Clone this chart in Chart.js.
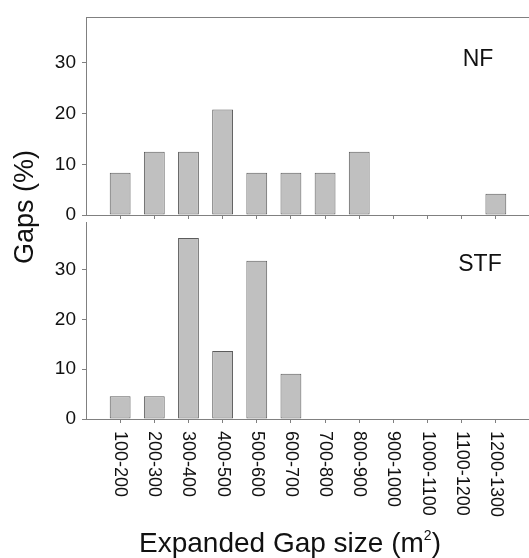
<!DOCTYPE html>
<html>
<head>
<meta charset="utf-8">
<script src="https://cdn.jsdelivr.net/npm/chart.js@4"></script>
<style>
    body { margin: 0; width: 529px; height: 558px; overflow: hidden; background: #fff; position: relative; font-family: "Liberation Sans", Arial, sans-serif; color: #111; }
    canvas { position: absolute; left: 0; }
    #topChart { top: 0; }
    #bottomChart { top: 205px; }
    .lbl { position: absolute; white-space: nowrap; text-align: center; }
    #yTitle { left: -76px; top: 192px; width: 200px; height: 30px; line-height: 30px; font-size: 27px; transform: rotate(-90deg); }
    #xTitle { left: 0; width: 580px; top: 529px; line-height: 28px; font-size: 28px; }
    #xTitle sup { font-size: 14px; vertical-align: 12px; line-height: 0; }
    .panel { width: 100px; line-height: 23px; font-size: 23px; }
    #nf { left: 428px; top: 47px; }
    #stf { left: 430px; top: 252px; }
</style>
</head>
<body>
<canvas id="topChart" width="530" height="240"></canvas>
<canvas id="bottomChart" width="530" height="353"></canvas>
<div class="lbl" id="yTitle">Gaps (%)</div>
<div class="lbl" id="xTitle">Expanded Gap size (m<sup>2</sup>)</div>
<div class="lbl panel" id="nf">NF</div>
<div class="lbl panel" id="stf">STF</div>
<script>
// gap size classes (m2)
const categories = ["100-200", "200-300", "300-400", "400-500", "500-600", "600-700",
    "700-800", "800-900", "900-1000", "1000-1100", "1100-1200", "1200-1300"];
// % of gaps, natural forest
const nfValues = [8.33, 12.5, 12.5, 20.83, 8.33, 8.33, 8.33, 12.5, 0, 0, 0, 4.17];
// % of gaps, STF
const stfValues = [4.55, 4.55, 36.36, 13.64, 31.82, 9.09, 0, 0, 0, 0, 0, 0];
const yTicks = [0, 10, 20, 30];

const axisColor = "#808080";
const textColor = "#111";
Chart.defaults.font.family = "'Liberation Sans', Arial, sans-serif";

// blank slot at each end so the classes sit one step in from the axes
const labels = [""].concat(categories, [""]);
function pad(values) {
    return [null].concat(values, [null]);
}

function barSet(values) {
    return {
        data: pad(values),
        backgroundColor: "#c0c0c0",
        borderColor: "#5c5c5c",
        borderWidth: 1,
        borderSkipped: false,
        categoryPercentage: 1,
        barPercentage: 0.61,
    };
}

function yScale(max) {
    return {
        min: 0,
        max: max,
        afterFit: function (s) { s.width = 86; },
        border: { color: axisColor },
        grid: { drawOnChartArea: false, tickLength: 4, tickColor: axisColor },
        ticks: {
            stepSize: 10,
            includeBounds: false,
            padding: 6,
            color: textColor,
            font: { size: 19 },
            callback: function (v) { return yTicks.indexOf(v) >= 0 ? v : ""; },
        },
    };
}

function xScale(height) {
    return {
        type: "category",
        offset: false,
        afterFit: function (s) { s.height = height; },
        border: { color: axisColor },
        grid: {
            offset: false,
            drawOnChartArea: false,
            tickLength: 4,
            tickColor: function (ctx) {
                return ctx.index === 0 || ctx.index === labels.length - 1 ? "transparent" : axisColor;
            },
        },
        ticks: { display: false, autoSkip: false },
    };
}

// rotated class labels, reading downward from the axis
const downLabels = {
    id: "downLabels",
    afterDraw: function (chart) {
        const x = chart.scales.x;
        const ctx = chart.ctx;
        ctx.save();
        ctx.font = "18px 'Liberation Sans', Arial, sans-serif";
        ctx.fillStyle = textColor;
        ctx.textAlign = "left";
        ctx.textBaseline = "middle";
        for (var i = 1; i < labels.length - 1; i++) {
            ctx.save();
            ctx.translate(x.getPixelForValue(i), x.top + 12);
            ctx.rotate(Math.PI / 2);
            ctx.fillText(labels[i], 0, 0);
            ctx.restore();
        }
        ctx.restore();
    },
};

const common = {
    responsive: false,
    animation: false,
    plugins: { legend: { display: false }, tooltip: { enabled: false } },
};

new Chart(document.getElementById("topChart"), {
    type: "bar",
    data: { labels: labels, datasets: [barSet(nfValues)] },
    options: Object.assign({}, common, {
        layout: { padding: { top: 13, left: 0, right: 0, bottom: 0 } },
        scales: {
            x: xScale(25),
            xTop: {
                type: "category",
                position: "top",
                afterFit: function (s) { s.height = 0; },
                border: { color: axisColor },
                grid: { display: false },
                ticks: { display: false },
            },
            y: yScale(39),
        },
    }),
});

new Chart(document.getElementById("bottomChart"), {
    type: "bar",
    data: { labels: labels, datasets: [barSet(stfValues)] },
    options: Object.assign({}, common, {
        layout: { padding: { top: 10, left: 0, right: 0, bottom: 0 } },
        scales: {
            x: xScale(139),
            y: yScale(39.5),
        },
    }),
    plugins: [downLabels],
});
</script>
</body>
</html>
